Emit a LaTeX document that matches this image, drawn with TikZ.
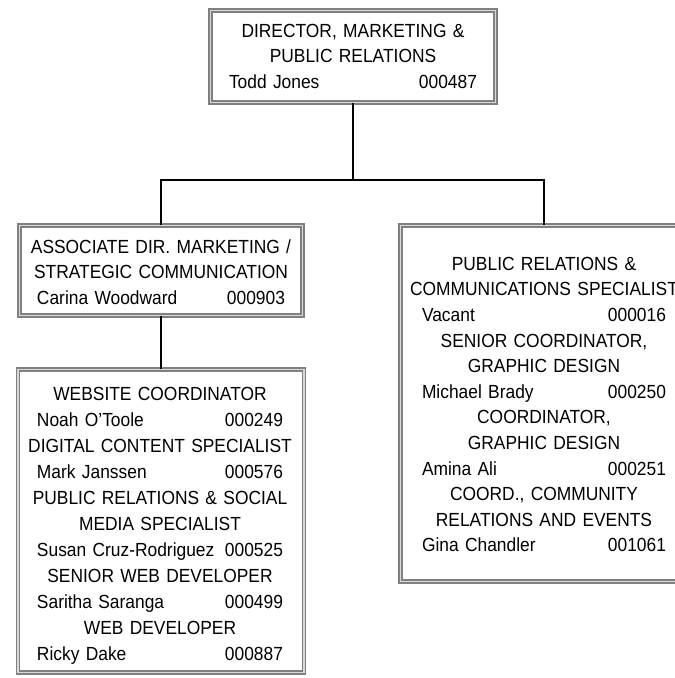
\documentclass[tikz,border=0pt]{standalone}
\usepackage{fontspec}
\setmainfont[FakeStretch=0.915]{Liberation Sans}
\newcommand\personrow[3][246pt]{\makebox[#1]{#2\hfill#3}}
\begin{document}
\begin{tikzpicture}[x=1pt,y=1pt,
  box/.style={draw=black!50, line width=1.8pt, double=black!15, double distance=1.3pt,
              fill=white, inner sep=0pt},
  txt/.style={inner sep=0pt, text width=290pt, align=center, anchor=north,
              font=\fontsize{19}{25.6}\selectfont},
  link/.style={draw=black, line width=1.7pt}]
\useasboundingbox (0,0) rectangle (675,-678);
\clip (0,0) rectangle (675,-678);
% boxes
\node[box, minimum width=285pt, minimum height=92pt] (top) at (353,-56.5) {};
\node[box, minimum width=283pt, minimum height=90pt] (assoc) at (161,-270.5) {};
\node[box, minimum width=286pt, minimum height=303pt] (web) at (161,-521) {};
\node[box, minimum width=287pt, minimum height=356pt] (pr) at (544,-403.5) {};
% connectors
\coordinate (j) at (353,-180);
\draw[link] (top.south) -- (j);
\draw[link] (assoc.north) |- (j) -| (pr.north);
\draw[link] (assoc.south) -- (web.north);
% texts
\node[txt] (toptxt) at (353,-19.08) {\strut DIRECTOR, MARKETING \&\\
  PUBLIC RELATIONS\\
  \personrow[248pt]{Todd Jones}{000487}};
\node[txt] (assoctxt) at (161,-235.08) {\strut ASSOCIATE DIR. MARKETING /\\
  STRATEGIC COMMUNICATION\\
  \personrow[248pt]{Carina Woodward}{000903}};
\node[txt, font=\fontsize{19}{26}\selectfont] (webtxt) at (160,-381.8) {\strut WEBSITE COORDINATOR\\
  \personrow{Noah O'Toole}{000249}\\
  DIGITAL CONTENT SPECIALIST\\
  \personrow{Mark Janssen}{000576}\\
  PUBLIC RELATIONS \& SOCIAL\\
  MEDIA SPECIALIST\\
  \personrow{Susan Cruz-Rodriguez}{000525}\\
  SENIOR WEB DEVELOPER\\
  \personrow{Saritha Saranga}{000499}\\
  WEB DEVELOPER\\
  \personrow{Ricky Dake}{000887}};
\node[txt] (prtxt) at (544,-252.08) {\strut PUBLIC RELATIONS \&\\
  COMMUNICATIONS SPECIALIST\\
  \personrow[244pt]{Vacant}{000016}\\
  SENIOR COORDINATOR,\\
  GRAPHIC DESIGN\\
  \personrow[244pt]{Michael Brady}{000250}\\
  COORDINATOR,\\
  GRAPHIC DESIGN\\
  \personrow[244pt]{Amina Ali}{000251}\\
  COORD., COMMUNITY\\
  RELATIONS AND EVENTS\\
  \personrow[244pt]{Gina Chandler}{001061}};
\end{tikzpicture}
\end{document}
